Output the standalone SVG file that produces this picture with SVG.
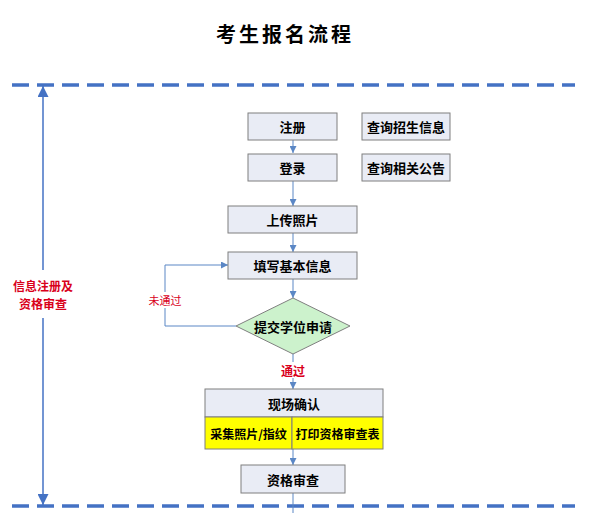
<svg xmlns="http://www.w3.org/2000/svg" width="590" height="513" viewBox="0 0 590 513">
<style>
.box{fill:#E9ECF5;stroke:#7F7F7F;stroke-width:1}
.t{font-family:"Noto Sans CJK SC","Noto Sans",sans-serif;font-size:13px;font-weight:bold;fill:#000;text-anchor:middle;dominant-baseline:central}
.ts{font-size:12px}
.red{fill:#D9001B}
.con{fill:none;stroke:#5B87C5;stroke-width:1}
.dash{fill:none;stroke:#4472C4;stroke-width:3.5;stroke-dasharray:17 8}
</style>
<defs>
<marker id="ar" viewBox="0 0 10 10" refX="10" refY="5" markerWidth="7" markerHeight="7" markerUnits="userSpaceOnUse" orient="auto">
<path d="M0,0 L10,5 L0,10 z" fill="#5B87C5"/>
</marker>
<marker id="big" viewBox="0 0 10 10" refX="10" refY="5" markerWidth="11" markerHeight="11" markerUnits="userSpaceOnUse" orient="auto">
<path d="M0,0 L10,5 L0,10 z" fill="#4472C4"/>
</marker>
</defs>
<rect width="590" height="513" fill="#FFFFFF"/>
<text x="285" y="33" class="t" style="font-size:20px;letter-spacing:3px">考生报名流程</text>
<g id="guides">
<line x1="12" y1="85" x2="575" y2="85" class="dash"/>
<line x1="12" y1="506" x2="575" y2="506" class="dash"/>
<line x1="43" y1="270" x2="43" y2="86" stroke="#4472C4" stroke-width="1.5" marker-end="url(#big)"/>
<line x1="43" y1="318" x2="43" y2="505" stroke="#4472C4" stroke-width="1.5" marker-end="url(#big)"/>
<text x="43" y="285" class="t red" style="font-size:12px">信息注册及</text>
<text x="43" y="303" class="t red" style="font-size:12px">资格审查</text>
</g>
<g id="connectors">
<line x1="293" y1="139" x2="293" y2="153" class="con" marker-end="url(#ar)"/>
<line x1="293" y1="181" x2="293" y2="206" class="con" marker-end="url(#ar)"/>
<line x1="293" y1="233" x2="293" y2="252" class="con" marker-end="url(#ar)"/>
<line x1="293" y1="279" x2="293" y2="298" class="con" marker-end="url(#ar)"/>
<line x1="293" y1="354" x2="293" y2="389" class="con" marker-end="url(#ar)"/>
<polyline points="236,326 165,326 165,265 228,265" class="con" marker-end="url(#ar)"/>
<line x1="293" y1="449" x2="293" y2="465" class="con" marker-end="url(#ar)"/>
<line x1="293" y1="493" x2="293" y2="513" class="con"/>
<rect x="148" y="292" width="34" height="16" fill="#FFFFFF"/>
<text x="165" y="300" class="t red" style="font-size:11px;font-weight:normal;font-family:'Noto Sans CJK SC',serif">未通过</text>
<rect x="279" y="362" width="28" height="16" fill="#FFFFFF"/>
<text x="293" y="370" class="t red" style="font-size:12px">通过</text>
</g>
<g id="n-zhuce"><rect x="248" y="113" width="89" height="27" class="box"/><text x="292.5" y="126.5" class="t">注册</text></g>
<g id="n-chaxun1"><rect x="362" y="113" width="88" height="27" class="box"/><text x="406" y="126.5" class="t">查询招生信息</text></g>
<g id="n-denglu"><rect x="248" y="154" width="89" height="27" class="box"/><text x="292.5" y="167.5" class="t">登录</text></g>
<g id="n-chaxun2"><rect x="362" y="154" width="88" height="27" class="box"/><text x="406" y="167.5" class="t">查询相关公告</text></g>
<g id="n-upload"><rect x="228" y="206" width="129" height="27" class="box"/><text x="292.5" y="219.5" class="t">上传照片</text></g>
<g id="n-fill"><rect x="228" y="252" width="129" height="27" class="box"/><text x="292.5" y="265.5" class="t">填写基本信息</text></g>
<g id="n-submit"><polygon points="293,298 350,326 293,354 236,326" fill="#CCF2CC" stroke="#7F7F7F" stroke-width="1"/><text x="293" y="326" class="t">提交学位申请</text></g>
<g id="n-confirm">
<rect x="205" y="389" width="178" height="28" class="box"/><text x="294" y="403" class="t">现场确认</text>
<rect x="205" y="417" width="87" height="32" fill="#FFFF00" stroke="#7F7F7F" stroke-width="1"/>
<rect x="292" y="417" width="91" height="32" fill="#FFFF00" stroke="#7F7F7F" stroke-width="1"/>
<text x="248.5" y="433" class="t ts">采集照片/指纹</text>
<text x="337.5" y="433" class="t ts">打印资格审查表</text>
</g>
<g id="n-review"><rect x="241" y="465" width="104" height="28" class="box"/><text x="293" y="479" class="t">资格审查</text></g>
</svg>
